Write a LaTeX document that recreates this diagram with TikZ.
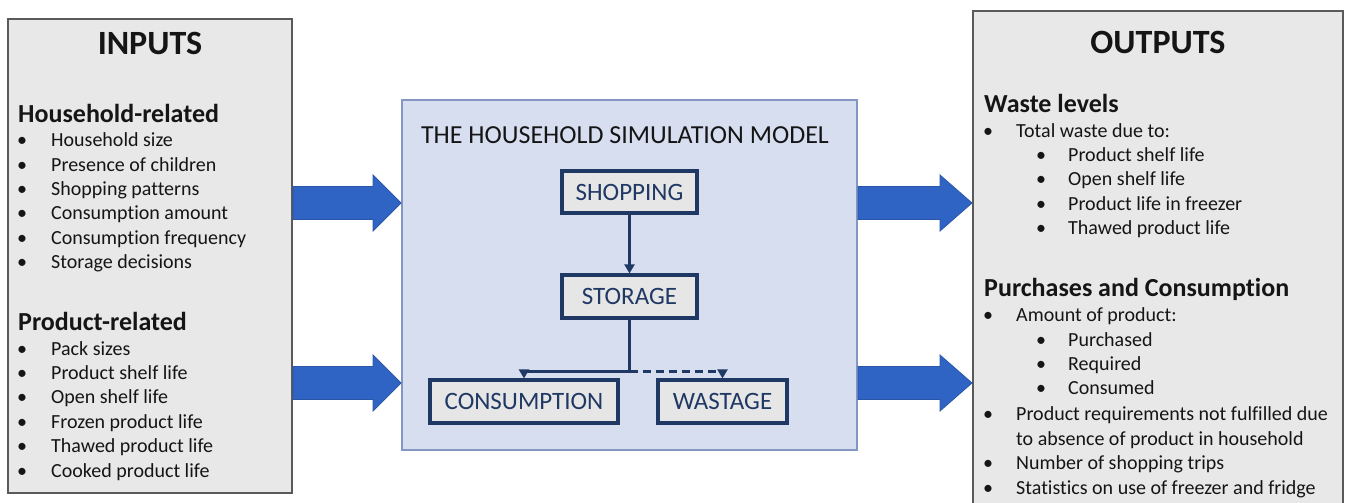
\documentclass[tikz,border=0pt]{standalone}
\usepackage{fontspec}
\setmainfont{Carlito}[Ligatures=NoCommon]
\usetikzlibrary{arrows.meta,calc}

\definecolor{panelgray}{HTML}{E8E8E8}
\definecolor{paneledge}{HTML}{5A5A5A}
\definecolor{modelfill}{HTML}{D6DEF0}
\definecolor{modeledge}{HTML}{8496C4}
\definecolor{navy}{HTML}{1F3864}
\definecolor{stepfill}{HTML}{E6E6E6}
\definecolor{flowblue}{HTML}{3064C4}
\definecolor{flowedge}{HTML}{2A56A8}
\definecolor{ink}{HTML}{151515}

% block arrow: start x, neck x, tip x, centre y
\newcommand\flowarrow[4]{%
  \filldraw[flow] (#1,#4-16.5) -- (#2,#4-16.5) -- (#2,#4-28) -- (#3,#4)
    -- (#2,#4+28) -- (#2,#4+16.5) -- (#1,#4+16.5) -- cycle;}

\begin{document}
\begin{tikzpicture}[x=1pt,y=-1pt,
  panel/.style={draw=paneledge,fill=panelgray,line width=1.2pt,inner sep=0pt},
  modelbox/.style={draw=modeledge,fill=modelfill,line width=1.2pt,inner sep=0pt},
  stepbox/.style={draw=navy,fill=stepfill,line width=3.2pt,inner sep=0pt,
    text=navy,font=\fontsize{25}{28}\selectfont},
  heading/.style={anchor=base west,inner sep=0pt,text=ink,
    font=\fontsize{26}{30}\selectfont\bfseries},
  bigtitle/.style={anchor=base,inner sep=0pt,text=ink,font=\fontsize{34}{38}\selectfont\bfseries},
  item/.style={anchor=base west,inner sep=0pt,text=ink,font=\fontsize{20}{24}\selectfont},
  dot/.style={anchor=base,inner sep=0pt,text=ink,font=\fontsize{20}{24}\selectfont},
  link/.style={draw=navy,line width=3.2pt,-{Triangle[length=9pt,width=10pt]}},
  flow/.style={fill=flowblue,draw=flowedge,line width=0.8pt}]

\useasboundingbox (0,0) rectangle (1346,503);
\fill[white] (0,0) rectangle (1346,503);

% ---- side panels ----
\node[panel,minimum width=284pt,minimum height=474pt] (in) at (150,256) {};
\node[panel,minimum width=370pt,minimum height=496pt] (out) at (1158,259) {};

% ---- model panel ----
\node[modelbox,minimum width=455pt,minimum height=350pt] (model) at (629.5,275) {};
\node[anchor=base,inner sep=0pt,text=ink,font=\fontsize{26}{30}\selectfont] (mtitle) at (625,143)
  {THE HOUSEHOLD SIMULATION MODEL};

\node[stepbox,minimum width=135pt,minimum height=42pt] (shop)  at (629.5,192)   {SHOPPING};
\node[stepbox,minimum width=135pt,minimum height=43pt] (store) at (629.5,296.5) {STORAGE};
\node[stepbox,minimum width=188pt,minimum height=43pt] (cons)  at (524,401.5)   {CONSUMPTION};
\node[stepbox,minimum width=129pt,minimum height=43pt] (waste) at (722.5,401.5) {WASTAGE};

\coordinate (split) at ($(store.south)+(0,52)$);
\draw[link] (shop.south) -- (store.north);
\draw[draw=navy,line width=3.2pt] (store.south) -- (split);
\draw[link] (split) -| (cons.north);
\draw[link,dashed,dash pattern=on 8pt off 5pt] (split) -| (waste.north);

% ---- block arrows ----
\flowarrow{293}{373}{401}{203}
\flowarrow{293}{373}{401}{383}
\flowarrow{858}{940}{972}{203}
\flowarrow{858}{940}{972}{383}

% ---- inputs ----
\node[bigtitle] (intitle) at (150,55) {INPUTS};
\node[heading] (hh) at (18,122) {Household-related};
\foreach \t [count=\i] in {Household size,Presence of children,Shopping patterns,
    Consumption amount,Consumption frequency,Storage decisions}{
  \node[dot] (hb\i) at (22,146.7+24.4*\i-24.4) {•};
  \node[item] (hi\i) at (51,146.7+24.4*\i-24.4) {\t};
}
\node[heading] (pr) at (18,330) {Product-related};
\foreach \t [count=\i] in {Pack sizes,Product shelf life,Open shelf life,
    Frozen product life,Thawed product life,Cooked product life}{
  \node[dot] (pb\i) at (22,355+24.4*\i-24.4) {•};
  \node[item] (pi\i) at (51,355+24.4*\i-24.4) {\t};
}

% ---- outputs ----
\node[bigtitle] (outtitle) at (1158,53) {OUTPUTS};
\node[heading] (wl) at (984,112.5) {Waste levels};
\node[dot] (wb0) at (988,137) {•};
\node[item] (wi0) at (1016,137) {Total waste due to:};
\foreach \t [count=\i] in {Product shelf life,Open shelf life,
    Product life in freezer,Thawed product life}{
  \node[dot] (wb\i) at (1041,161.5+24.4*\i-24.4) {•};
  \node[item] (wi\i) at (1068,161.5+24.4*\i-24.4) {\t};
}
\node[heading] (pc) at (984,296) {Purchases and Consumption};
\node[dot] (cb0) at (988,321.5) {•};
\node[item] (ci0) at (1016,321.5) {Amount of product:};
\foreach \t [count=\i] in {Purchased,Required,Consumed}{
  \node[dot] (cb\i) at (1041,346+24.4*\i-24.4) {•};
  \node[item] (ci\i) at (1068,346+24.4*\i-24.4) {\t};
}
\node[dot] (rb1) at (988,420.5) {•};
\node[item] (ri1) at (1016,420.5) {Product requirements not fulfilled due};
\node[item] (ri2) at (1016,445) {to absence of product in household};
\node[dot] (rb3) at (988,469.5) {•};
\node[item] (ri3) at (1016,469.5) {Number of shopping trips};
\node[dot] (rb4) at (988,494) {•};
\node[item] (ri4) at (1016,494) {Statistics on use of freezer and fridge};

\end{tikzpicture}
\end{document}
